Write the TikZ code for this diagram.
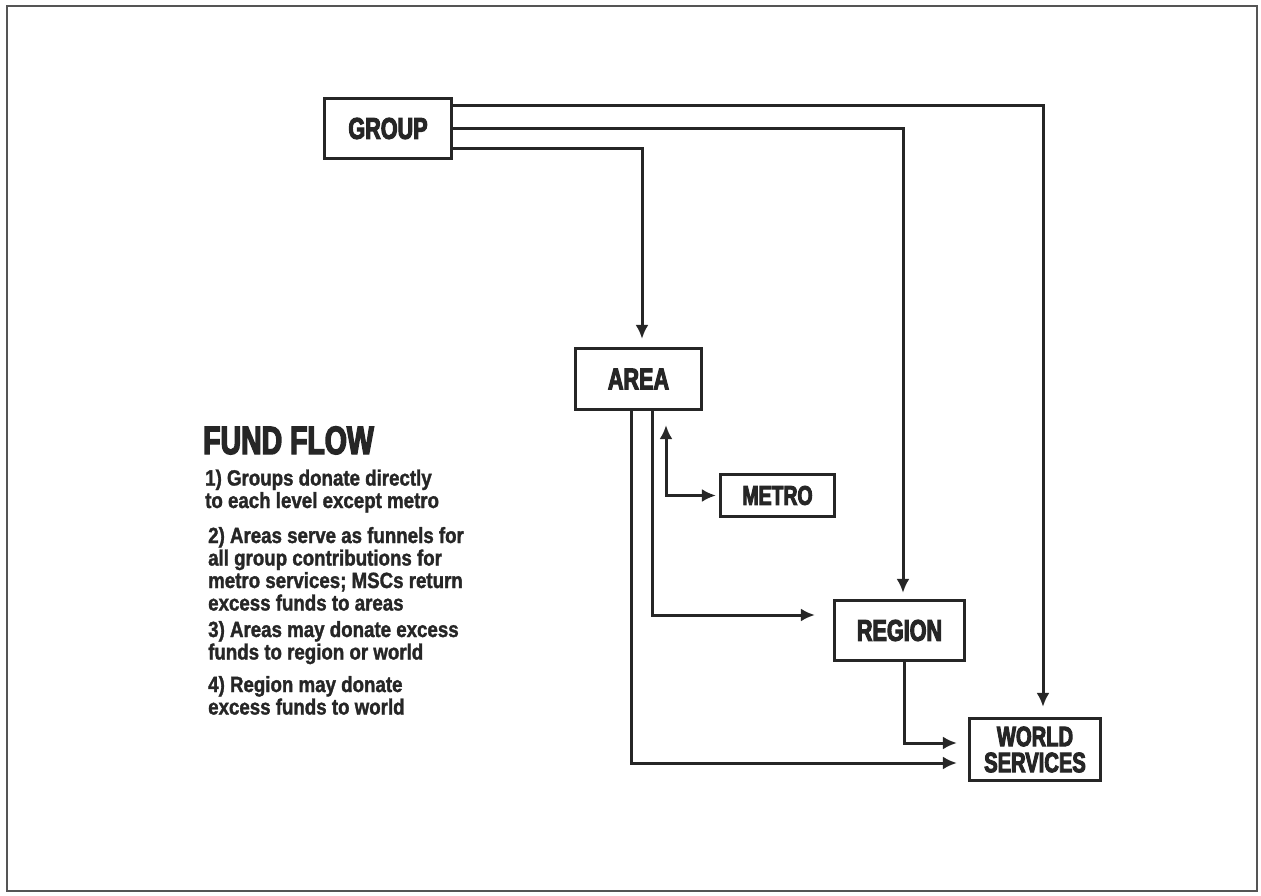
\documentclass[tikz,border=0pt]{standalone}
\usepackage{fontspec}
\setmainfont{Liberation Sans}
\newfontfamily\labelfont{Liberation Sans}[FakeStretch=0.72, BoldFeatures={FakeBold=3.5}]
\newfontfamily\bodyfont{Liberation Sans}[FakeStretch=0.85, BoldFeatures={FakeBold=1.5}]
\definecolor{Inkcol}{HTML}{262626}
\definecolor{Framecol}{HTML}{555555}
\usetikzlibrary{arrows.meta, positioning}
\tikzset{
    >={Latex[length=14pt, width=13pt]},
    box/.style={draw=Inkcol, line width=3.2pt, inner sep=0pt, text=Inkcol,
        font=\labelfont\bfseries\fontsize{30}{30}\selectfont},
    flow/.style={->, draw=Inkcol, line width=3pt},
    note/.style={anchor=base west, inner sep=0pt, align=left, text=Inkcol,
        font=\bodyfont\bfseries\fontsize{22}{22.5}\selectfont}
}

\begin{document}
\begin{tikzpicture}[x=1pt, y=-1pt]
    \useasboundingbox (0,0) rectangle (1261,896);
    % Frame
    \draw[Framecol, line width=1.6pt] (7,6) rectangle (1257,891);

    % Boxes
    \node[box, minimum width=127pt, minimum height=60pt] (group) at (388,128.5) {GROUP};
    \node[box, minimum width=126pt, minimum height=61pt] (area) at (638.5,379) {AREA};
    \node[box, minimum width=114pt, minimum height=42pt,
        font=\labelfont\bfseries\fontsize{27}{27}\selectfont] (metro) at (777.5,495.5) {METRO};
    \node[box, minimum width=130pt, minimum height=60pt] (region) at (899.5,630.5) {REGION};
    \node[box, minimum width=131pt, minimum height=62pt, align=center,
        font=\labelfont\bfseries\fontsize{28}{26}\selectfont] (world) at (1035,749.5) {WORLD\\SERVICES};

    % Group donations
    \draw[flow, shorten >=10pt] ([yshift=22.5pt]group.east) -| ([xshift=8pt]world.north);
    \draw[flow, shorten >=6pt] (group.east) -| ([xshift=3.5pt]region.north);
    \draw[flow, shorten >=8pt] ([yshift=-20.5pt]group.east) -| ([xshift=3.5pt]area.north);

    % Area and region donations
    \draw[flow, shorten >=11pt] ([xshift=-7.5pt]area.south) |- ([yshift=-13.5pt]world.west);
    \draw[flow, shorten >=18pt] ([xshift=13.5pt]area.south) |- ([yshift=15.5pt]region.west);
    \draw[flow, <->, shorten <=14pt, shorten >=3pt] ([xshift=27.5pt]area.south) |- (metro.west);
    \draw[flow, shorten >=11pt] ([xshift=4.5pt]region.south) |- ([yshift=6.5pt]world.west);

    % Legend (base = last line)
    \node[anchor=base west, inner sep=0pt, text=Inkcol,
        font=\labelfont\bfseries\fontsize{39.5}{40}\selectfont] (title) at (203,454) {FUND FLOW};
    \node[note] (step1) at (205,508) {1) Groups donate directly\\to each level except metro};
    \node[note] (step2) at (208,610.5) {2) Areas serve as funnels for\\all group contributions for\\metro services; MSCs return\\excess funds to areas};
    \node[note] (step3) at (208,659.5) {3) Areas may donate excess\\funds to region or world};
    \node[note] (step4) at (208,714.5) {4) Region may donate\\excess funds to world};
\end{tikzpicture}
\end{document}
